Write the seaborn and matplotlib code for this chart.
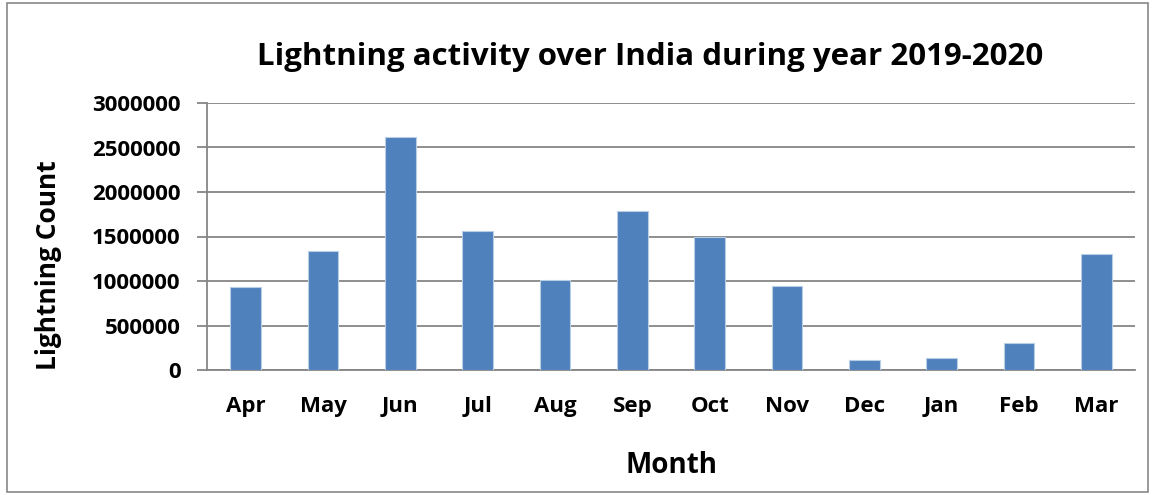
import matplotlib
matplotlib.use("Agg")
import matplotlib.pyplot as plt
import seaborn as sns
import pandas as pd
from matplotlib.patches import Rectangle

months = ["Apr", "May", "Jun", "Jul", "Aug", "Sep", "Oct", "Nov", "Dec", "Jan", "Feb", "Mar"]
counts = [934000, 1339000, 2614000, 1557000, 1016000, 1785000, 1493000, 949000, 109000, 131000, 308000, 1302000]
yticks = [0, 500000, 1000000, 1500000, 2000000, 2500000, 3000000]

sns.set_style("white")
plt.rcParams["font.family"] = ["Open Sans", "DejaVu Sans"]
plt.rcParams["font.weight"] = "bold"
plt.rcParams["axes.labelweight"] = "bold"
plt.rcParams["text.color"] = "black"
plt.rcParams["axes.labelcolor"] = "black"
plt.rcParams["xtick.color"] = "black"
plt.rcParams["ytick.color"] = "black"

df = pd.DataFrame({"Month": months, "Count": counts})

fig = plt.figure(figsize=(11.56, 4.95), dpi=100)
ax = fig.add_axes([207/1156, 1 - 370/495, (1135-207)/1156, (370-103)/495])

sns.barplot(data=df, x="Month", y="Count", color="#4F81BD", width=0.4,
            edgecolor="#B9CDE5", linewidth=0.8, saturation=1, ax=ax, zorder=3)

grid_c = "#868686"
ax.tick_params(axis="y", which="major", direction="out", length=7, width=1.3, color=grid_c,
               labelcolor="black", pad=12, left=True, labelsize=16)
ax.tick_params(axis="x", length=0, pad=19, labelcolor="black", labelsize=16)
ax.set_ylim(0, 3000000)
ax.set_yticks(yticks)
ax.set_yticklabels([str(v) for v in yticks])
ax.yaxis.grid(True, color=grid_c, linewidth=1.3, zorder=0)
ax.set_axisbelow(True)
for s in ["top", "right"]:
    ax.spines[s].set_visible(False)
for s in ["left", "bottom"]:
    ax.spines[s].set_color(grid_c)
    ax.spines[s].set_linewidth(1.3)
ax.set_xlim(-0.5, len(months) - 0.5)

ax.set_xlabel("Month", fontsize=20, fontweight="bold", labelpad=24, color="black")
ax.set_ylabel("Lightning Count", fontsize=19, fontweight="bold", color="black")
ax.yaxis.set_label_coords(-0.156, 0.393)
fig.text(650/1156, 1 - 57/495, "Lightning activity over India during year 2019-2020",
         ha="center", va="center", fontsize=22.5, fontweight="bold", color="black")

fig.patches.append(Rectangle((7/1156, 3/495), (1148-7)/1156, (492-3)/495,
                             transform=fig.transFigure, fill=False,
                             edgecolor="#888888", linewidth=1.2))

fig.canvas.draw()
for lbl in ax.get_xticklabels() + ax.get_yticklabels():
    lbl.set_fontweight("bold")

fig.savefig("out.png", dpi=100)
